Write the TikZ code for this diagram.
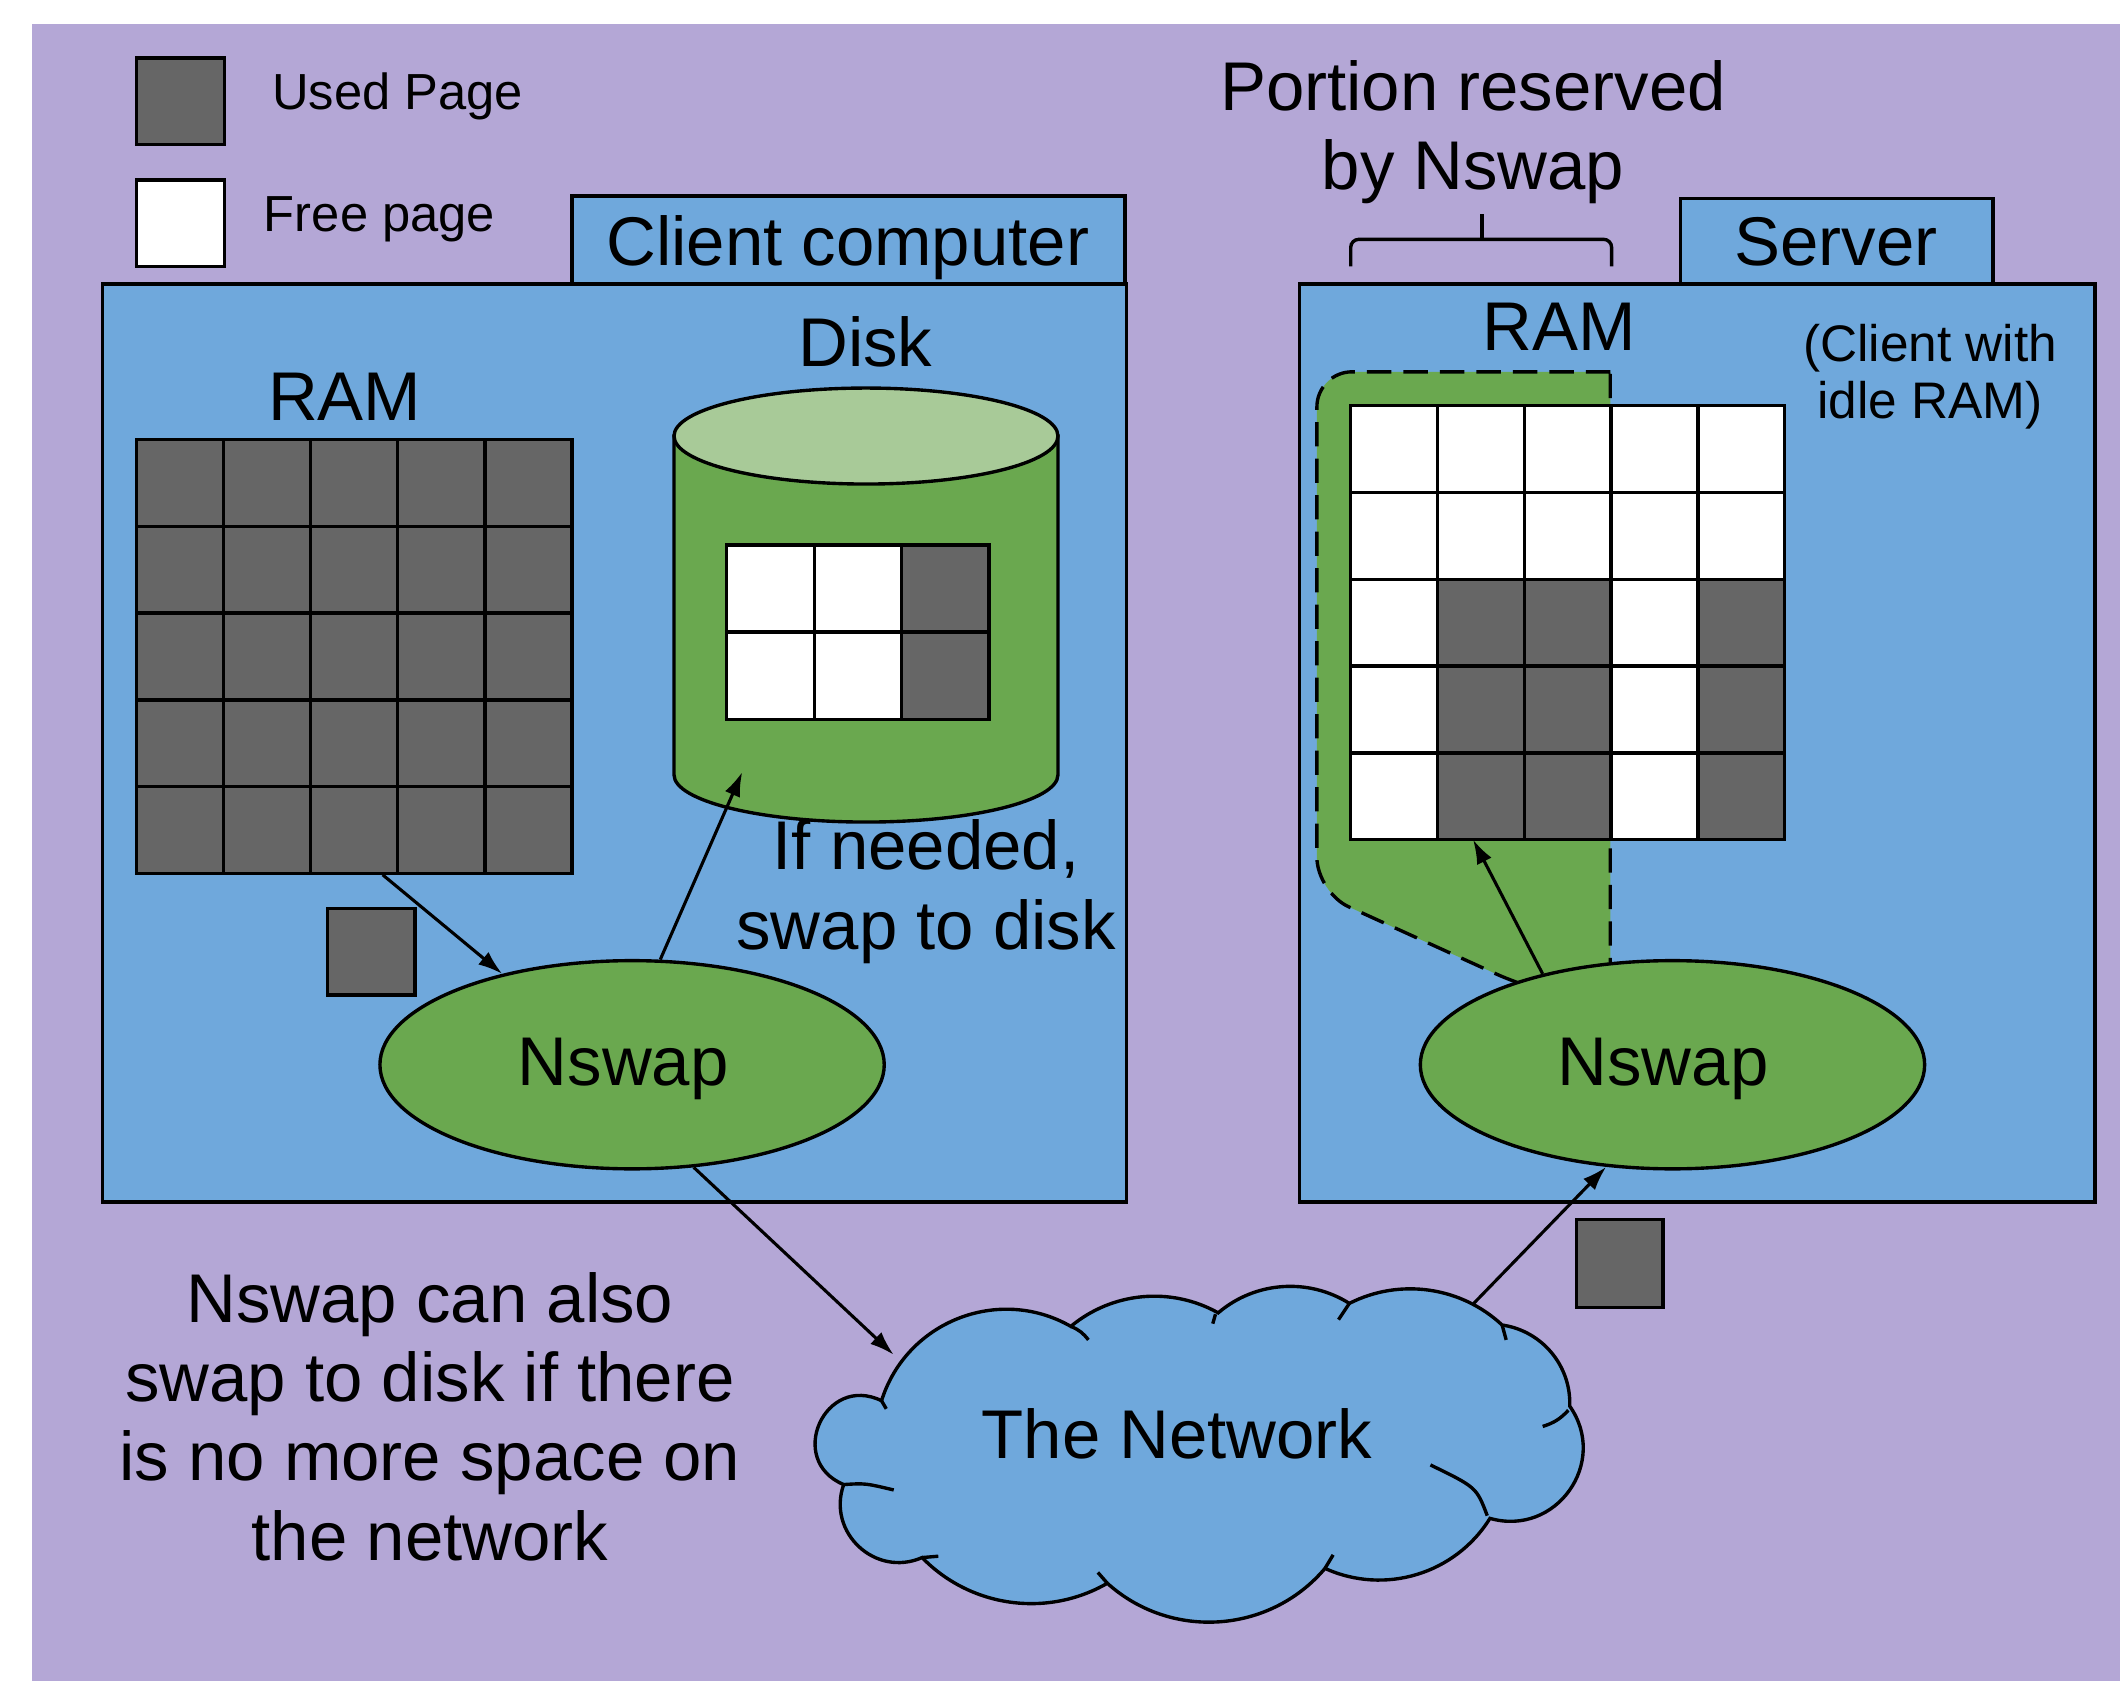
\documentclass[tikz,border=0pt]{standalone}
\usepackage{fontspec}
\setmainfont{Liberation Sans}
\usetikzlibrary{shapes.geometric,arrows.meta}
\definecolor{bgpurple}{HTML}{B4A7D6}
\definecolor{boxblue}{HTML}{6FA8DC}
\definecolor{nswapgreen}{HTML}{6AA84F}
\definecolor{disktop}{HTML}{A8CA98}
\definecolor{usedgray}{HTML}{666666}
\begin{document}
\begin{tikzpicture}[x=1pt,y=-1pt,line width=2.5pt,
  bigtxt/.style={font=\fontsize{51}{58.7}\selectfont,inner sep=0pt,align=center},
  legtxt/.style={font=\fontsize{37.5}{44}\selectfont,inner sep=0pt},
  midtxt/.style={font=\fontsize{38}{42}\selectfont,inner sep=0pt,align=center},
  usedcell/.style={draw=black,fill=usedgray},
  freecell/.style={draw=black,fill=white},
  boxframe/.style={draw=black,fill=boxblue},
  nswapnode/.style={ellipse,draw=black,fill=nswapgreen,minimum width=373pt,minimum height=154pt,inner sep=0pt},
  puff/.style 2 args={bend left=#1,looseness=#2},
  arr/.style={-{Latex[length=18pt,width=12pt]},line width=2.3pt}]
\useasboundingbox (0,0) rectangle (1568,1243);
\fill[white] (0,0) rectangle (1568,1243);
\fill[bgpurple] (24,18) rectangle (1568,1243);

% legend
\draw[usedcell] (101,43) rectangle (166,107);
\draw[freecell] (101,133) rectangle (166,197);
\node[legtxt,anchor=base west] (usedlbl) at (200,81) {Used Page};
\node[legtxt,anchor=base west] (freelbl) at (194,171.5) {Free page};

% client computer frame
\draw[boxframe] (76,210) rectangle (833,889);
\draw[boxframe] (423,145) rectangle (832,210);
\node[bigtxt,anchor=base] (clientlbl) at (627,196) {Client computer};

% server frame
\draw[boxframe] (961,210) rectangle (1549.5,889);
\draw[boxframe] (1243,147) rectangle (1474,210);
\node[bigtxt,anchor=base] (serverlbl) at (1358,196) {Server};

% reserved portion bracket
\node[bigtxt,anchor=base] (portionlbl) at (1089.5,140.5) {Portion reserved\\by Nswap};
\draw[rounded corners=6pt] (999,197) -- (999,177) -- (1192,177) -- (1192,197);
\draw (1096,177) -- (1096,158);

% client RAM
\node[bigtxt,anchor=base] (cramlbl) at (255,311) {RAM};
\foreach \r in {0,...,4}
  \foreach \c in {0,...,4}
    \draw[usedcell] ({101+64.4*\c},{325+64.2*\r}) rectangle +(64.4,64.2);
\coordinate (ramout) at (283,647);
\draw[usedcell] (242,672) rectangle (307,736);

% disk
\node[bigtxt,anchor=base] (disklbl) at (640,271) {Disk};
\filldraw[fill=nswapgreen] (498.5,322.5) -- (498.5,573)
  arc[start angle=180,end angle=0,x radius=142,y radius=35] -- (782.5,322.5) -- cycle;
\filldraw[fill=disktop] (640.5,322.5) ellipse[x radius=142,y radius=35.5];
\foreach \r in {0,1}{
  \foreach \c in {0,1}
    \draw[freecell] ({537.5+64.7*\c},{403+64.5*\r}) rectangle +(64.7,64.5);
  \draw[usedcell] ({537.5+64.7*2},{403+64.5*\r}) rectangle +(64.7,64.5);
}
\coordinate (diskin) at (549,571);
\node[bigtxt,anchor=base] (ifneeded) at (685,702) {If needed,\\swap to disk};

% server RAM with the portion held by Nswap
\node[bigtxt,anchor=base] (sramlbl) at (1153,259) {RAM};
\node[midtxt,anchor=base] (idlelbl) at (1427.5,309.5) {(Client with\\idle RAM)};
\filldraw[fill=nswapgreen,dash pattern=on 18pt off 9pt] (1191,275)
  [rounded corners=26pt] -- (974,275) -- (974,660) -- (1130,731)
  [sharp corners] -- (1191,745) -- cycle;
\foreach \r in {0,...,4}
  \foreach \c in {0,...,4}
    \draw[freecell] ({999+64.2*\c},{300+64.2*\r}) rectangle +(64.2,64.2);
\foreach \r in {2,3,4}
  \foreach \c in {1,2,4}
    \draw[usedcell] ({999+64.2*\c},{300+64.2*\r}) rectangle +(64.2,64.2);
\coordinate (sramin) at (1089.5,621);

% Nswap on both machines
\node[nswapnode] (cnswap) at (467.5,787.5) {};
\node[bigtxt,anchor=base] (cnswaplbl) at (461,803) {Nswap};
\node[nswapnode] (snswap) at (1237,787.5) {};
\node[bigtxt,anchor=base] (snswaplbl) at (1230,803) {Nswap};

% the network: a cloud of circular puffs between notch points
\coordinate (pA) at (652,1036);  \coordinate (pB) at (792,981);
\coordinate (pC) at (901,971);   \coordinate (pD) at (998,964);
\coordinate (pE) at (1111,980);  \coordinate (pF) at (1161,1040);
\coordinate (pG) at (1102,1123); \coordinate (pH) at (980,1160);
\coordinate (pI) at (819,1171);  \coordinate (pJ) at (682,1152);
\coordinate (pK) at (624,1098);
\filldraw[fill=boxblue] (pA)
  to[puff={51.2}{1.047}] (pB) to[puff={34.5}{0.934}] (pC)
  to[puff={36.4}{0.943}] (pD) to[puff={35}{0.936}] (pE)
  to[puff={42}{0.977}] (pF) to[puff={70.5}{1.277}] (pG)
  to[puff={41.3}{0.972}] (pH) to[puff={45.9}{1.004}] (pI)
  to[puff={37.9}{0.952}] (pJ) to[puff={66.6}{1.219}] (pK)
  to[puff={91.7}{1.754}] (pA) -- cycle;
% inner ends of the puff outlines
\draw (pA) -- (655.5,1042);
\draw (pB) to[bend left=15] (805,991);
\draw (899,972) -- (897,979);
\draw (pD) -- (990,976);
\draw (pE) -- (1114,991);
\draw (1160,1043) to[bend left=15] (1141,1055);
\draw (1100,1121) .. controls (1092,1100) .. (1058,1083.5);
\draw (pH) -- (986,1150);
\draw (pI) -- (812,1163);
\draw (pJ) -- (694,1151);
\draw (pK) .. controls (640,1097) .. (661,1102);
\coordinate (netin) at (661,1002);
\coordinate (netout) at (1090,964);
\node[bigtxt,anchor=base] (netlbl) at (870.5,1079) {The Network};
\draw[usedcell] (1166,902) rectangle (1230,967);

\node[bigtxt,anchor=base] (notelbl) at (318,1154)
  {Nswap can also\\swap to disk if there\\is no more space on\\the network};

% page movements
\draw[arr] (ramout) -- (cnswap.145.3);
\draw[arr] (cnswap.75.9) -- (diskin);
\draw[arr] (cnswap.-59.5) -- (netin);
\draw[arr] (netout) -- (snswap.237.2);
\draw[arr] (snswap.145.2) -- (sramin);
\end{tikzpicture}
\end{document}
